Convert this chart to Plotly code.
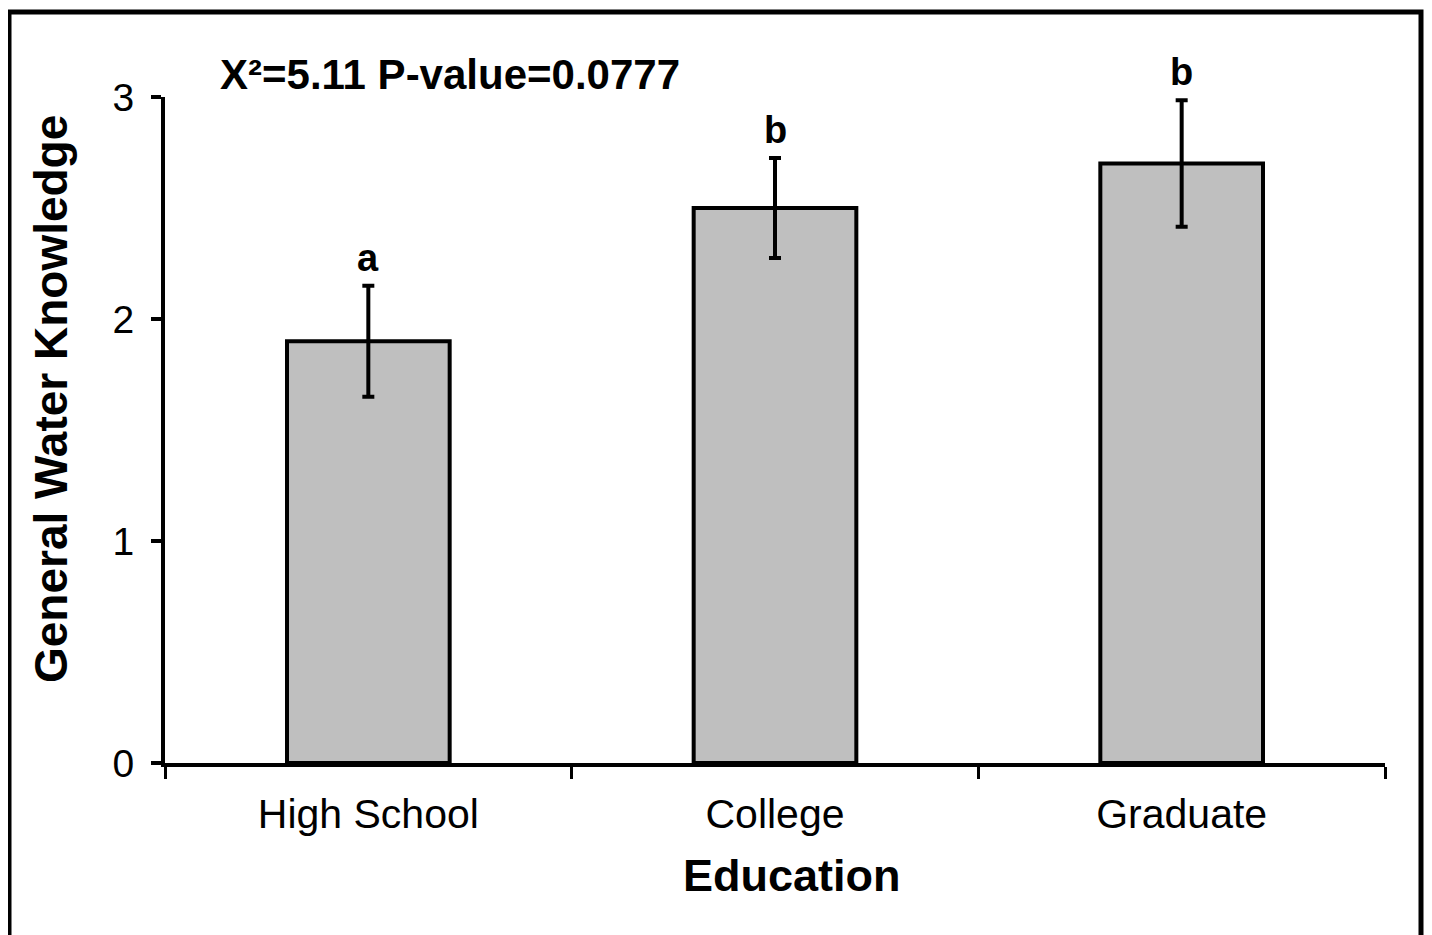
import plotly.graph_objects as go

categories = ["High School", "College", "Graduate"]
means = [1.90, 2.50, 2.70]
errors = [0.25, 0.225, 0.285]
letters = ["a", "b", "b"]
y_ticks = [0, 1, 2, 3]
stat_text = "X²=5.11 P-value=0.0777"
x_title = "Education"
y_title = "General Water Knowledge"

FONT = "Liberation Sans, Arial, sans-serif"

# page has an 8px body margin; plot area target: x 165..1385, y 97..763 (screen)
OFF = 8
L, T = 165 - OFF, 97 - OFF
PW, PH = 1220, 666
W, H = 1432, 935


def px(xs):
    return (xs - OFF - L) / PW


def py(ys):
    return (T + PH - (ys - OFF)) / PH


fig = go.Figure()
fig.add_trace(go.Bar(
    x=categories, y=means, width=0.4,
    marker=dict(color="#bfbfbf", line=dict(color="black", width=4)),
    error_y=dict(type="data", array=errors, visible=True,
                 color="black", thickness=4, width=6),
    showlegend=False,
))

for c, m, e, l in zip(categories, means, errors, letters):
    fig.add_annotation(x=c, y=m + e, text=f"<b>{l}</b>", showarrow=False,
                       yanchor="bottom", yshift=5,
                       font=dict(family=FONT, size=38, color="black"))

fig.add_annotation(xref="paper", yref="paper", x=px(218), y=py(75),
                   xanchor="left", yanchor="middle", showarrow=False,
                   text=f"<b>{stat_text}</b>",
                   font=dict(family=FONT, size=42, color="black"))

fig.add_annotation(xref="paper", yref="paper", x=px(51), y=py(399),
                   xanchor="center", yanchor="middle", showarrow=False, textangle=-90,
                   text=f"<b>{y_title}</b>",
                   font=dict(family=FONT, size=46, color="black"))

fig.add_annotation(xref="paper", yref="paper", x=px(792), y=py(875),
                   xanchor="center", yanchor="middle", showarrow=False,
                   text=f"<b>{x_title}</b>",
                   font=dict(family=FONT, size=45, color="black"))

# outer frame
fig.add_shape(type="rect", xref="paper", yref="paper",
              x0=px(9), x1=px(1421), y0=py(950), y1=py(12),
              line=dict(color="black", width=5), fillcolor="rgba(0,0,0,0)")

fig.update_layout(
    width=W, height=H,
    margin=dict(l=L, r=W - L - PW, t=T, b=H - T - PH),
    plot_bgcolor="white", paper_bgcolor="white",
    font=dict(family=FONT, color="black"),
)
fig.update_xaxes(
    showline=True, linecolor="black", linewidth=4,
    ticks="outside", ticklen=12, tickwidth=3, tickcolor="black",
    tickson="boundaries", showgrid=False, zeroline=False,
    tickfont=dict(family=FONT, size=41, color="black"),
    ticklabelstandoff=12,
    range=[-0.5, 2.5],
)
fig.update_yaxes(
    range=[0, 3], tickvals=y_ticks, showline=True, linecolor="black", linewidth=4,
    ticks="outside", ticklen=10, tickwidth=4, tickcolor="black",
    showgrid=False, zeroline=False,
    tickfont=dict(family=FONT, size=39, color="black"),
    ticklabelstandoff=9,
)

fig.write_html("out.html")
